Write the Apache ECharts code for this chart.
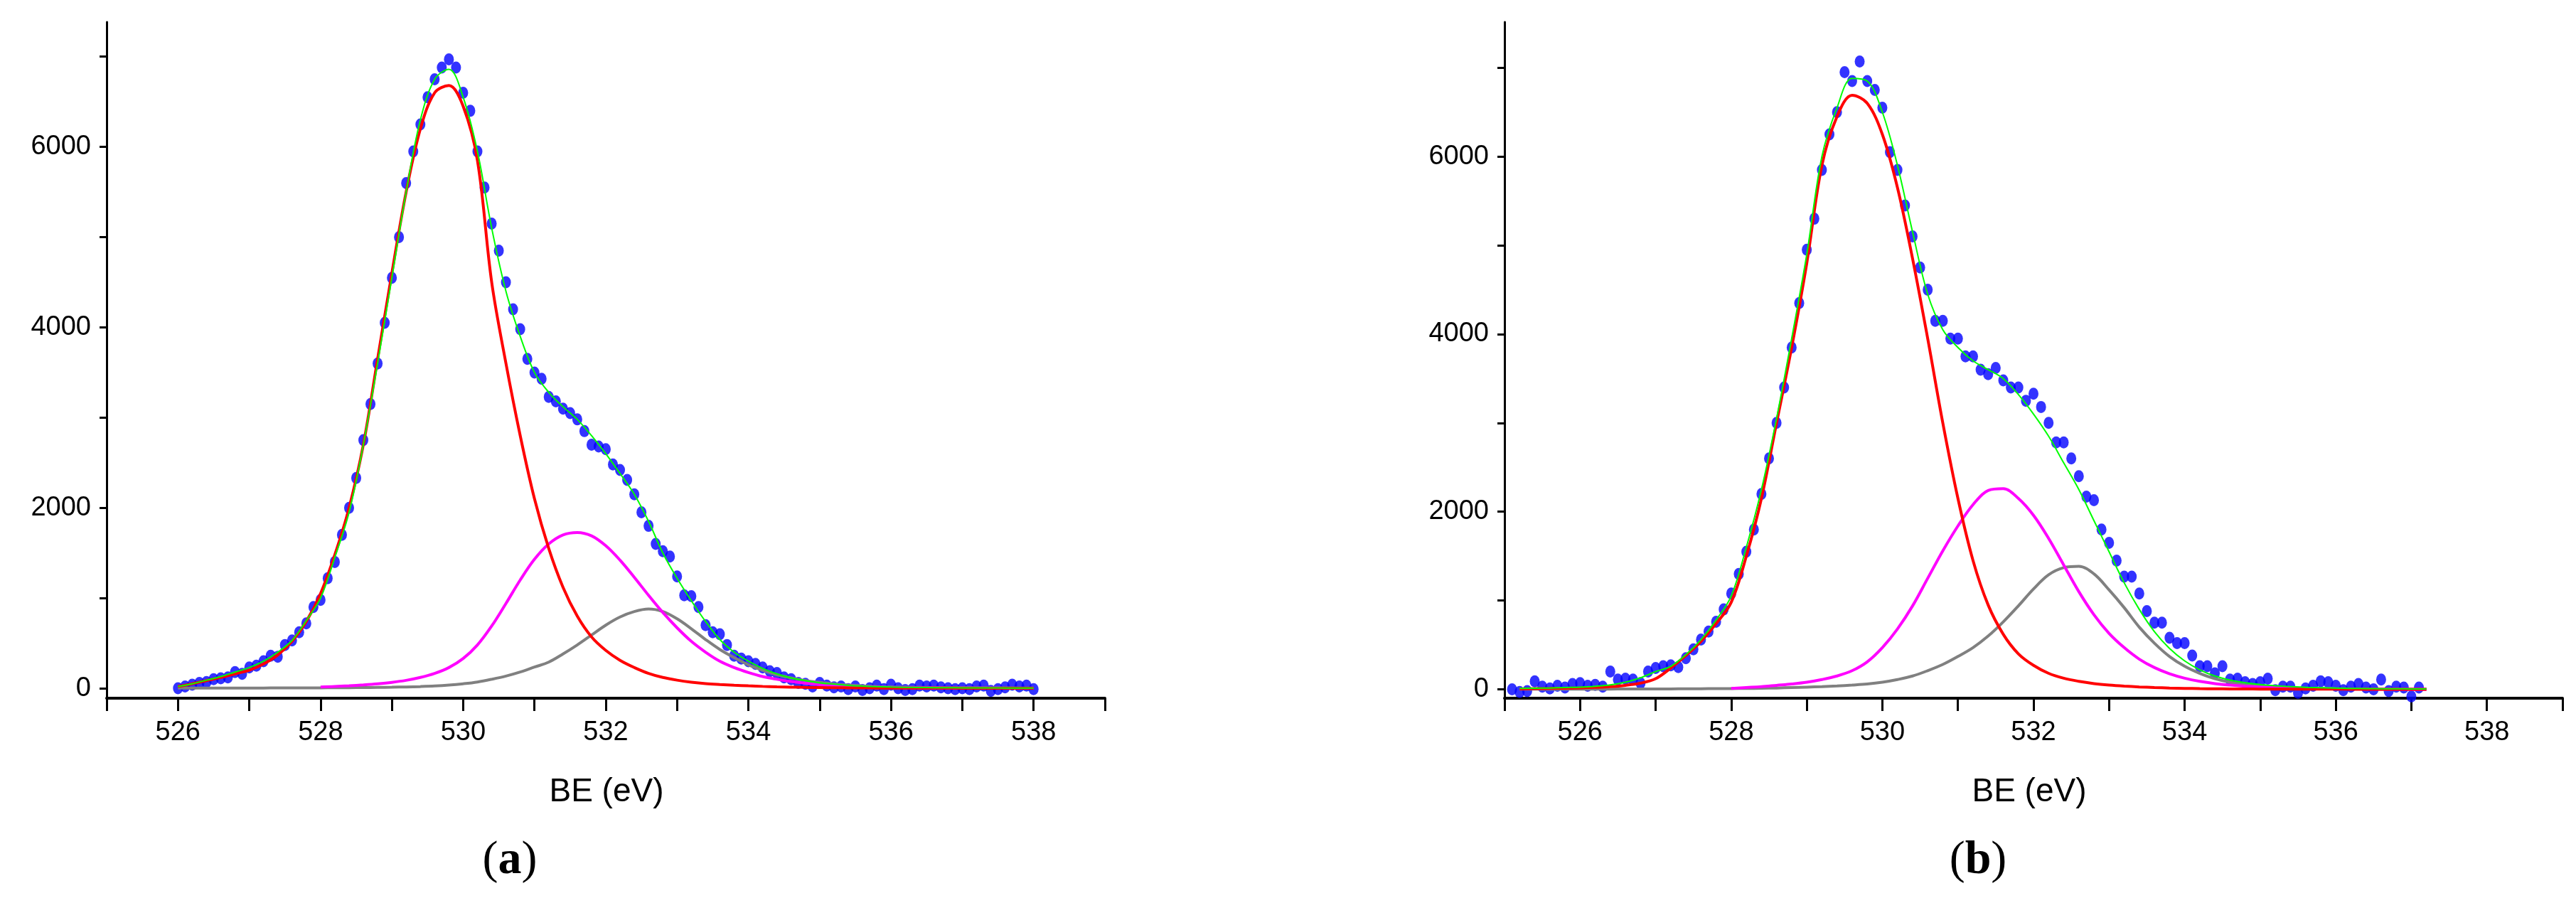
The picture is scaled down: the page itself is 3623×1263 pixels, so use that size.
<!DOCTYPE html>
<html><head><meta charset="utf-8">
<script src="https://cdn.jsdelivr.net/npm/echarts@6/dist/echarts.min.js"></script>
<style>html,body{margin:0;padding:0;background:#fff}#c{width:3623px;height:1263px}</style>
</head><body><div id="c"></div>
<script>
// ---- panel (a) ----
const gridA = [526.0,526.2,526.4,526.6,526.8,527.0,527.2,527.4,527.6,527.8,
 528.0,528.2,528.4,528.6,528.8,529.0,529.2,529.4,529.6,529.8,
 530.0,530.2,530.4,530.6,530.8,531.0,531.2,531.4,531.6,531.8,
 532.0,532.2,532.4,532.6,532.8,533.0,533.2,533.4,533.6,533.8,
 534.0,534.2,534.4,534.6,534.8,535.0,535.2,535.4,535.6,535.8,
 536.0,536.2,536.4,536.6,536.8,537.0,537.2,537.4,537.6,537.8,538.0];
const redA = [20,50,85,120,160,200,270,370,520,740,
 1050,1480,2000,2700,3650,4600,5500,6200,6600,6680,
 6450,5850,4500,3600,2800,2100,1550,1120,800,570,
 420,310,230,165,120,90,68,52,42,34,
 27,21,16,13,10,8,6,5,4,3,
 2,2,2,2,2,1,1,1,1,1,1];
const magA = [null,null,null,null,null,null,null,null,null,null,
 15,20,28,38,50,66,88,120,165,230,
 330,480,690,940,1200,1430,1600,1700,1727,1690,
 1580,1420,1230,1030,840,670,520,400,300,230,
 175,130,100,75,55,40,30,22,16,12,
 9,7,5,4,3,3,2,2,1,1,1];
const greyA = [2,2,2,2,3,3,3,4,4,5,
 5,6,7,8,10,12,15,19,25,35,
 50,70,100,135,180,235,290,380,480,590,
 700,790,850,878,850,770,660,540,430,340,
 260,200,150,115,85,65,48,35,26,19,
 14,12,10,8,7,6,5,4,4,3,3];
const envA = [20,50,90,130,180,230,300,400,530,750,
 1000,1450,1950,2700,3600,4550,5500,6300,6750,6860,
 6550,5950,5100,4400,3900,3500,3280,3120,2980,2800,
 2600,2380,2150,1850,1500,1220,970,740,540,400,
 300,220,160,115,85,60,45,32,24,18,
 14,11,9,7,6,5,4,4,3,3,3];
const dotXA = [526.0,526.1,526.2,526.3,526.4,526.5,526.6,526.7,526.8,526.9,527.0,527.1,527.2,527.3,527.4,527.5,527.6,527.7,527.8,527.9,
 528.0,528.1,528.2,528.3,528.4,528.5,528.6,528.7,528.8,528.9,529.0,529.1,529.2,529.3,529.4,529.5,529.6,529.7,529.8,529.9,
 530.0,530.1,530.2,530.3,530.4,530.5,530.6,530.7,530.8,530.9,531.0,531.1,531.2,531.3,531.4,531.5,531.6,531.7,531.8,531.9,
 532.0,532.1,532.2,532.3,532.4,532.5,532.6,532.7,532.8,532.9,533.0,533.1,533.2,533.3,533.4,533.5,533.6,533.7,533.8,533.9,
 534.0,534.1,534.2,534.3,534.4,534.5,534.6,534.7,534.8,534.9,535.0,535.1,535.2,535.3,535.4,535.5,535.6,535.7,535.8,535.9,
 536.0,536.1,536.2,536.3,536.4,536.5,536.6,536.7,536.8,536.9,537.0,537.1,537.2,537.3,537.4,537.5,537.6,537.7,537.8,537.9,538.0];
const dotYA = [0,20,40,60,70,100,110,120,180,160,230,250,300,360,350,480,530,620,720,900,
 980,1220,1400,1700,2000,2330,2750,3150,3600,4050,4550,5000,5600,5950,6250,6550,6750,6880,6970,6880,
 6600,6400,5950,5550,5150,4850,4500,4200,3980,3650,3500,3430,3230,3180,3100,3050,2980,2850,2700,2680,
 2650,2480,2420,2310,2150,1950,1800,1600,1520,1460,1240,1030,1020,900,700,620,600,480,360,330,
 300,270,230,190,170,120,100,60,50,20,60,30,10,20,-10,20,-20,0,30,-10,
 40,0,-20,-10,30,20,30,10,0,-10,0,-10,20,30,-30,-10,10,40,20,30,-10];
// ---- panel (b) ----
const gridB = [525.2,525.4,525.6,525.8,526.0,526.2,526.4,526.6,526.8,527.0,
 527.2,527.4,527.6,527.8,528.0,528.2,528.4,528.6,528.8,529.0,
 529.2,529.4,529.6,529.8,530.0,530.2,530.4,530.6,530.8,531.0,
 531.2,531.4,531.6,531.8,532.0,532.2,532.4,532.6,532.8,533.0,
 533.2,533.4,533.6,533.8,534.0,534.2,534.4,534.6,534.8,535.0,
 535.2,535.4,535.6,535.8,536.0,536.2,536.4,536.6,536.8,537.0,537.2];
const redB = [5,8,10,13,17,22,30,45,70,120,
 240,380,540,740,980,1500,2150,3000,3850,4800,
 5900,6450,6690,6600,6250,5650,4850,3950,3000,2150,
 1450,950,620,400,270,180,125,90,65,48,
 36,27,20,15,11,8,6,5,4,3,
 3,2,2,2,2,1,1,1,1,1,1];
const magB = [null,null,null,null,null,null,null,null,null,null,
 null,null,null,null,10,20,30,45,60,80,
 110,150,210,310,470,680,940,1250,1560,1840,
 2080,2240,2260,2150,1960,1700,1400,1100,840,630,
 470,340,245,175,125,90,65,48,35,25,
 18,13,10,7,5,4,3,2,2,1,1];
const greyB = [2,2,2,3,3,3,3,4,4,5,
 5,6,7,8,9,10,12,15,20,25,
 30,38,48,60,80,110,150,210,280,370,
 470,600,760,940,1130,1290,1370,1385,1300,1120,
 920,700,520,370,260,180,120,80,50,35,
 25,18,13,10,7,5,4,3,2,2,2];
const envB = [10,12,15,20,25,35,50,80,130,200,
 260,390,560,780,1050,1600,2250,3050,3950,4900,
 6000,6550,6880,6850,6500,5900,5150,4450,4050,3850,
 3700,3600,3500,3320,3100,2850,2550,2250,1900,1550,
 1200,900,650,460,320,220,150,105,75,55,
 40,30,22,18,14,11,9,7,6,5,5];
const dotXB = [525.1,525.2,525.3,525.4,525.5,525.6,525.7,525.8,525.9,526.0,526.1,526.2,526.3,526.4,526.5,526.6,526.7,526.8,526.9,527.0,
 527.1,527.2,527.3,527.4,527.5,527.6,527.7,527.8,527.9,528.0,528.1,528.2,528.3,528.4,528.5,528.6,528.7,528.8,528.9,529.0,
 529.1,529.2,529.3,529.4,529.5,529.6,529.7,529.8,529.9,530.0,530.1,530.2,530.3,530.4,530.5,530.6,530.7,530.8,530.9,531.0,
 531.1,531.2,531.3,531.4,531.5,531.6,531.7,531.8,531.9,532.0,532.1,532.2,532.3,532.4,532.5,532.6,532.7,532.8,532.9,533.0,
 533.1,533.2,533.3,533.4,533.5,533.6,533.7,533.8,533.9,534.0,534.1,534.2,534.3,534.4,534.5,534.6,534.7,534.8,534.9,535.0,
 535.1,535.2,535.3,535.4,535.5,535.6,535.7,535.8,535.9,536.0,536.1,536.2,536.3,536.4,536.5,536.6,536.7,536.8,536.9,537.0,537.1];
const dotYB = [0,-30,-20,90,30,10,40,20,60,70,40,50,30,200,110,120,110,70,200,240,
 260,270,250,350,450,560,650,760,900,1080,1300,1550,1800,2200,2600,3000,3400,3850,4350,4950,
 5300,5850,6250,6500,6950,6850,7070,6850,6750,6550,6050,5850,5450,5100,4750,4500,4150,4150,3950,3950,
 3750,3750,3600,3550,3620,3480,3400,3400,3250,3330,3180,3000,2780,2780,2600,2400,2170,2130,1800,1650,
 1450,1270,1270,1080,880,750,750,580,520,520,380,260,260,180,260,110,120,80,60,80,
 120,-10,30,30,-40,10,40,90,80,40,-10,30,60,20,0,110,-20,30,20,-80,20];
// tick labels
const xLabels = [526,528,530,532,534,536,538];
const xTicks = [525,526,527,528,529,530,531,532,533,534,535,536,537,538,539];
const yLabels = [0,2000,4000,6000];
const yTicks = [0,1000,2000,3000,4000,5000,6000,7000];

const zip = (xs, ys) => xs.map((x, i) => [x, ys[i]]);
const FONT = "'Liberation Sans Narrow','Liberation Sans',Arial,sans-serif";
function xAxis(gi){return {type:'value',gridIndex:gi,min:525,max:539,
  axisLine:{onZero:false,lineStyle:{color:'#000',width:4}},
  axisTick:{customValues:xTicks,length:18,inside:false,lineStyle:{color:'#000',width:3}},
  axisLabel:{customValues:xLabels,color:'#000',fontSize:38,fontFamily:FONT,margin:30,formatter:v=>String(v)},
  splitLine:{show:false}};}
function yAxis(gi,min,max){return {type:'value',gridIndex:gi,min:min,max:max,
  axisLine:{show:true,lineStyle:{color:'#000',width:3}},
  axisTick:{show:true,customValues:yTicks,length:10,lineStyle:{color:'#000',width:3}},
  axisLabel:{customValues:yLabels,color:'#000',fontSize:38,fontFamily:FONT,margin:22,formatter:v=>String(v)},
  splitLine:{show:false}};}
function line(gi,xs,ys,color,w,z){return {type:'line',xAxisIndex:gi,yAxisIndex:gi,data:zip(xs,ys),
  smooth:0.35,showSymbol:false,symbol:'none',connectNulls:false,lineStyle:{color:color,width:w},z:z,silent:true,animation:false};}
function dots(gi,xs,ys){return {type:'scatter',xAxisIndex:gi,yAxisIndex:gi,data:zip(xs,ys),
  symbol:'circle',symbolSize:[14,17],itemStyle:{color:'#0000FF'},z:2,animation:false};}

const chart = echarts.init(document.getElementById('c'));
chart.setOption({
  backgroundColor:'#fff', animation:false,
  grid:[{left:150,width:1404,top:31,height:951},{left:2116,width:1488,top:31,height:951}],
  xAxis:[xAxis(0),xAxis(1)],
  yAxis:[yAxis(0,-110,7384),yAxis(1,-100,7515)],
  series:[
    dots(0,dotXA,dotYA),
    line(0,gridA,greyA,'#808080',4,3),
    line(0,gridA,magA,'#FF00FF',4,3),
    line(0,gridA,redA,'#FF0000',4,4),
    line(0,gridA,envA,'#00FF00',2,5),
    dots(1,dotXB,dotYB),
    line(1,gridB,greyB,'#808080',4,3),
    line(1,gridB,magB,'#FF00FF',4,3),
    line(1,gridB,redB,'#FF0000',4,4),
    line(1,gridB,envB,'#00FF00',2,5)
  ],
  graphic:[
    {type:'text',x:853,y:1114,style:{text:'BE (eV)',font:"46px "+FONT,fill:'#000',textAlign:'center',textVerticalAlign:'middle'}},
    {type:'text',x:2854,y:1114,style:{text:'BE (eV)',font:"46px "+FONT,fill:'#000',textAlign:'center',textVerticalAlign:'middle'}},
    {type:'text',x:717,y:1211,style:{text:'({b|a})',font:"66px 'Liberation Serif',serif",fill:'#000',textAlign:'center',textVerticalAlign:'middle',
      rich:{b:{font:"bold 66px 'Liberation Serif',serif",fill:'#000'}}}},
    {type:'text',x:2782,y:1211,style:{text:'({b|b})',font:"66px 'Liberation Serif',serif",fill:'#000',textAlign:'center',textVerticalAlign:'middle',
      rich:{b:{font:"bold 66px 'Liberation Serif',serif",fill:'#000'}}}}
  ]
});
</script></body></html>
